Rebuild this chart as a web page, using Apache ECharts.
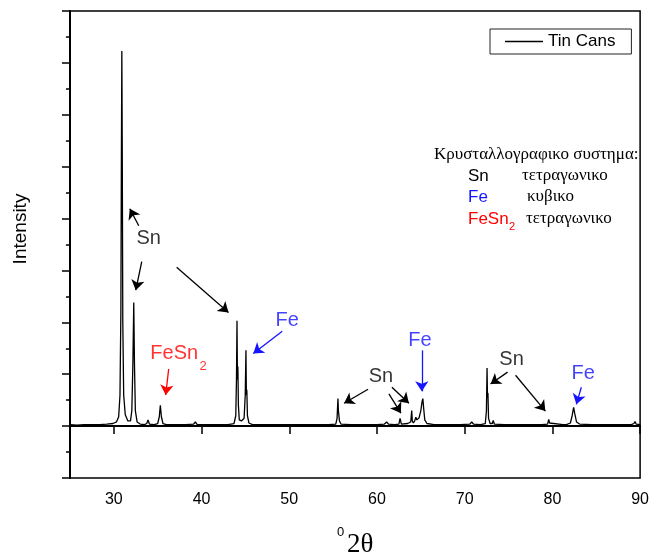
<!DOCTYPE html>
<html>
<head>
<meta charset="utf-8">
<script src="https://cdn.jsdelivr.net/npm/echarts@6/dist/echarts.min.js"></script>
<style>
  html, body { margin: 0; padding: 0; background: #fff; }
  #main { width: 652px; height: 559px; }
</style>
</head>
<body>
<div id="main"></div>
<script>
// XRD scan of tin cans, [2theta, intensity (arb.)]
var scan = [
  [25, 0.03], [25.8, 0.02], [26.6, 0.03], [27.3, 0.03], [27.45, 0.06], [27.6, 0.03],
  [28.4, 0.03], [29.2, 0.04], [29.9, 0.05], [30.3, 0.08], [30.55, 0.18], [30.7, 0.6],
  [30.8, 2.2], [30.86, 5.2], [30.91, 7.23], [30.96, 5.2], [31.02, 2.0], [31.12, 0.6],
  [31.3, 0.22], [31.6, 0.1], [31.9, 0.1], [32.05, 0.3], [32.17, 1.2], [32.27, 2.38],
  [32.35, 1.2], [32.45, 0.3], [32.65, 0.08], [33.0, 0.04], [33.5, 0.03], [33.75, 0.05],
  [33.9, 0.12], [34.05, 0.04], [34.6, 0.03], [35.0, 0.05], [35.18, 0.18], [35.3, 0.4],
  [35.42, 0.18], [35.6, 0.05], [36.0, 0.03], [37.0, 0.03], [38.2, 0.03], [39.1, 0.04],
  [39.3, 0.08], [39.5, 0.03], [40.5, 0.03], [41.8, 0.03], [43.0, 0.03], [43.7, 0.05],
  [43.9, 0.2], [43.98, 0.9], [44.04, 2.03], [44.09, 0.9], [44.14, 1.15], [44.2, 0.4],
  [44.3, 0.12], [44.55, 0.1], [44.85, 0.15], [44.98, 0.6], [45.06, 1.46], [45.11, 0.6],
  [45.16, 0.7], [45.23, 0.2], [45.4, 0.06], [45.8, 0.03], [47.0, 0.03], [48.5, 0.03],
  [50.0, 0.03], [51.5, 0.03], [53.0, 0.03], [54.5, 0.03], [55.3, 0.04], [55.45, 0.15],
  [55.55, 0.53], [55.6, 0.3], [55.65, 0.33], [55.72, 0.1], [55.9, 0.04], [57.0, 0.03],
  [58.5, 0.03], [60.0, 0.03], [60.85, 0.04], [61.1, 0.08], [61.3, 0.04], [62.0, 0.03],
  [62.5, 0.04], [62.63, 0.15], [62.7, 0.1], [62.78, 0.04], [63.5, 0.05], [63.85, 0.08],
  [63.96, 0.3], [64.03, 0.1], [64.15, 0.06], [64.3, 0.1], [64.43, 0.17], [64.55, 0.12],
  [64.8, 0.16], [65.0, 0.3], [65.15, 0.48], [65.23, 0.53], [65.32, 0.35], [65.45, 0.12],
  [65.7, 0.05], [66.5, 0.03], [68.0, 0.03], [69.5, 0.03], [70.6, 0.04], [70.8, 0.08],
  [71.0, 0.04], [71.8, 0.03], [72.35, 0.05], [72.48, 0.3], [72.55, 1.12], [72.6, 0.55],
  [72.65, 0.64], [72.72, 0.15], [72.9, 0.05], [73.15, 0.05], [73.25, 0.11], [73.38, 0.04],
  [74.5, 0.03], [76.0, 0.03], [77.5, 0.03], [78.8, 0.03], [79.45, 0.04], [79.58, 0.13],
  [79.68, 0.06], [79.85, 0.03], [81.2, 0.03], [81.4, 0.06], [81.6, 0.03], [82.05, 0.06],
  [82.25, 0.2], [82.42, 0.36], [82.55, 0.24], [82.75, 0.08], [83.1, 0.04], [84.5, 0.03],
  [86.0, 0.03], [87.5, 0.03], [89.0, 0.03], [89.3, 0.05], [89.42, 0.09], [89.55, 0.04],
  [90, 0.03]
];

var xTicks = [30, 40, 50, 60, 70, 80, 90];

// peak annotations: text and arrows (data coordinates)
var notes = [
  { name: 'Sn', value: [33.98, 3.62], color: '#000' },
  { name: 'Fe', value: [49.77, 2.04], color: '#1414ff' },
  { name: 'FeSn', value: [36.88, 1.40], color: '#ff0000' },
  { name: '2', value: [40.17, 1.15], color: '#ff0000', size: 13 },
  { name: 'Sn', value: [60.45, 0.96], color: '#000' },
  { name: 'Fe', value: [64.89, 1.65], color: '#1414ff' },
  { name: 'Sn', value: [75.34, 1.29], color: '#000' },
  { name: 'Fe', value: [83.52, 1.02], color: '#1414ff' }
];

var arrows = [
  { from: [32.84, 3.86], to: [31.82, 4.19], color: '#000' },
  { from: [33.18, 3.17], to: [32.5, 2.62], color: '#000' },
  { from: [37.16, 3.06], to: [43.07, 2.19], color: '#000' },
  { from: [49.2, 1.83], to: [45.9, 1.40], color: '#1414ff' },
  { from: [36.25, 1.10], to: [35.91, 0.60], color: '#ff0000' },
  { from: [58.98, 0.71], to: [56.25, 0.44], color: '#000' },
  { from: [61.36, 0.62], to: [62.73, 0.25], color: '#000' },
  { from: [61.7, 0.75], to: [63.64, 0.44], color: '#000' },
  { from: [65.11, 1.46], to: [65.11, 0.67], color: '#1414ff' },
  { from: [74.89, 1.04], to: [72.95, 0.81], color: '#000' },
  { from: [75.8, 0.98], to: [79.2, 0.29], color: '#000' },
  { from: [83.3, 0.75], to: [82.73, 0.42], color: '#1414ff' }
];

var SANS = '"Liberation Sans", Arial, sans-serif';
var SERIF = '"Liberation Serif", "Times New Roman", serif';

var chart = echarts.init(document.getElementById('main'));

var option = {
  animation: false,
  backgroundColor: '#fff',
  grid: {
    left: 70, right: 11, top: 11, bottom: 81,
    show: true, borderColor: '#000', borderWidth: 1.5
  },
  legend: {
    data: [{ name: 'Tin Cans', icon: 'rect' }],
    left: 490, top: 29,
    orient: 'horizontal',
    borderColor: '#222', borderWidth: 1,
    padding: [4, 16, 4, 15],
    itemWidth: 38, itemHeight: 1.3,
    itemStyle: { color: '#000' },
    textStyle: { fontFamily: SANS, fontSize: 17, color: '#000', padding: [0, 0, 0, 0] }
  },
  xAxis: {
    type: 'value',
    min: 25, max: 90,
    axisLine: { lineStyle: { color: '#000', width: 2 } },
    axisTick: { inside: false, length: 8, lineStyle: { color: '#000', width: 1.5 }, customValues: xTicks },
    axisLabel: { customValues: xTicks, margin: 14, fontFamily: SANS, fontSize: 16, color: '#000' },
    splitLine: { show: false }
  },
  yAxis: {
    type: 'value',
    min: -1, max: 8, interval: 1,
    axisLine: { show: true, lineStyle: { color: '#000', width: 2 } },
    axisTick: { show: true, inside: false, length: 8, lineStyle: { color: '#000', width: 1.5 } },
    minorTick: { show: true, splitNumber: 2, length: 4, lineStyle: { color: '#000', width: 1.5 } },
    axisLabel: { show: false },
    splitLine: { show: false }
  },
  graphic: [
    { type: 'text', x: 21, y: 229, rotation: Math.PI / 2,
      style: { text: 'Intensity', fontFamily: SANS, fontSize: 19, fill: '#000', align: 'center', verticalAlign: 'middle' } },
    { type: 'text', x: 337, y: 532,
      style: { text: '0', fontFamily: SANS, fontSize: 13, fill: '#000', verticalAlign: 'middle' } },
    { type: 'text', x: 347, y: 545,
      style: { text: '2θ', fontFamily: SERIF, fontSize: 27, fill: '#000', verticalAlign: 'middle' } },
    { type: 'text', x: 434, y: 155,
      style: { text: 'Κρυσταλλογραφικο συστημα:', fontFamily: SERIF, fontSize: 17, fill: '#000', verticalAlign: 'middle' } },
    { type: 'text', x: 468, y: 176,
      style: { text: 'Sn', fontFamily: SANS, fontSize: 17, fill: '#000', verticalAlign: 'middle' } },
    { type: 'text', x: 522, y: 176,
      style: { text: 'τετραγωνικο', fontFamily: SERIF, fontSize: 17, fill: '#000', verticalAlign: 'middle' } },
    { type: 'text', x: 468, y: 197,
      style: { text: 'Fe', fontFamily: SANS, fontSize: 17, fill: '#1414ff', verticalAlign: 'middle' } },
    { type: 'text', x: 527, y: 197,
      style: { text: 'κυβικο', fontFamily: SERIF, fontSize: 17, fill: '#000', verticalAlign: 'middle' } },
    { type: 'text', x: 468, y: 219,
      style: { text: 'FeSn', fontFamily: SANS, fontSize: 17, fill: '#ff0000', verticalAlign: 'middle' } },
    { type: 'text', x: 509, y: 227,
      style: { text: '2', fontFamily: SANS, fontSize: 11, fill: '#ff0000', verticalAlign: 'middle' } },
    { type: 'text', x: 526, y: 219,
      style: { text: 'τετραγωνικο', fontFamily: SERIF, fontSize: 17, fill: '#000', verticalAlign: 'middle' } }
  ],
  series: [
    {
      name: 'Tin Cans',
      type: 'line',
      data: scan,
      symbol: 'none',
      lineStyle: { color: '#000', width: 1.3 },
      itemStyle: { color: '#000' },
      markLine: {
        silent: true,
        animation: false,
        symbol: ['none', 'arrow'],
        symbolSize: 10,
        label: { show: false },
        data: arrows.map(function (a) {
          var ls = { color: a.color, width: 1.3, type: 'solid' };
          return [
            { coord: a.from, lineStyle: ls, itemStyle: { color: a.color } },
            { coord: a.to, lineStyle: ls, itemStyle: { color: a.color } }
          ];
        })
      }
    },
    {
      name: 'notes',
      type: 'scatter',
      symbolSize: 1,
      silent: true,
      itemStyle: { color: 'transparent' },
      data: notes.map(function (n) {
        return {
          name: n.name,
          value: n.value,
          label: {
            show: true, position: 'inside', formatter: '{b}',
            color: n.color, fontFamily: SANS, fontSize: n.size || 20
          }
        };
      })
    }
  ]
};

chart.setOption(option);
</script>
</body>
</html>
